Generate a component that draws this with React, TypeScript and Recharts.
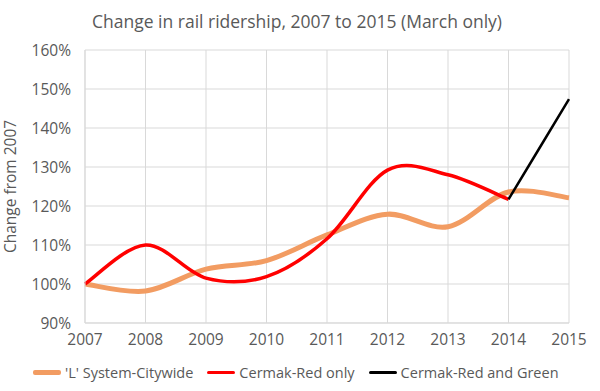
import { CartesianGrid, Line, LineChart, XAxis, YAxis } from 'recharts'

const years = ['2007', '2008', '2009', '2010', '2011', '2012', '2013', '2014', '2015']
const citywide = [100, 98.2, 103.8, 106, 112.6, 117.9, 114.7, 123.6, 122.1]
const cermakRed = [100, 110, 101.5, 101.9, 111.6, 129.2, 128, 121.7, null]
const cermakRedGreen = [null, null, null, null, null, null, null, 121.7, 147.4]
const yTicks = [90, 100, 110, 120, 130, 140, 150, 160]

const series = [
  { key: 'citywide', name: "'L' System-Citywide", color: '#F29C62', width: 5 },
  { key: 'red', name: 'Cermak-Red only', color: '#FF0000', width: 3.5 },
  { key: 'redGreen', name: 'Cermak-Red and Green', color: '#000000', width: 2.5 },
]

const data = years.map((year, i) => ({
  year,
  citywide: citywide[i],
  red: cermakRed[i],
  redGreen: cermakRedGreen[i],
}))

// Excel-style smoothed line (uniform Catmull-Rom as cubic beziers)
const excelSmooth = (context: any) => {
  let pts: [number, number][] = []
  return {
    areaStart() {},
    areaEnd() {},
    lineStart() {
      pts = []
    },
    lineEnd() {
      if (!pts.length) return
      context.moveTo(pts[0][0], pts[0][1])
      for (let i = 0; i < pts.length - 1; i++) {
        const p0 = pts[i - 1] || pts[i]
        const p1 = pts[i]
        const p2 = pts[i + 1]
        const p3 = pts[i + 2] || p2
        context.bezierCurveTo(
          p1[0] + (p2[0] - p0[0]) / 6,
          p1[1] + (p2[1] - p0[1]) / 6,
          p2[0] - (p3[0] - p1[0]) / 6,
          p2[1] - (p3[1] - p1[1]) / 6,
          p2[0],
          p2[1],
        )
      }
    },
    point(x: number, y: number) {
      pts.push([x, y])
    },
  }
}

const font = '"Open Sans", "Noto Sans", sans-serif'
const gray = '#595959'

export default function App() {
  return (
    <div
      style={{
        position: 'absolute',
        left: 0,
        top: 0,
        width: 600,
        height: 391,
        background: '#fff',
        fontFamily: font,
      }}
    >
      <div
        style={{
          position: 'absolute',
          top: 9,
          left: 0,
          width: 594,
          textAlign: 'center',
          fontSize: 17.5,
          color: gray,
        }}
      >
        Change in rail ridership, 2007 to 2015 (March only)
      </div>
      <LineChart
        width={600}
        height={391}
        data={data}
        margin={{ top: 50, right: 31, left: 15, bottom: 38 }}
      >
        <CartesianGrid stroke="#D9D9D9" />
        <XAxis
          dataKey="year"
          height={30}
          tick={{ fill: gray, fontSize: 15.5, fontFamily: font }}
          tickLine={false}
          tickMargin={5}
          axisLine={{ stroke: '#D9D9D9' }}
          interval={0}
        />
        <YAxis
          width={70}
          domain={[90, 160]}
          ticks={yTicks}
          tickFormatter={(v) => `${v}%`}
          tick={{ fill: gray, fontSize: 15.5, fontFamily: font }}
          tickLine={false}
          tickMargin={8}
          axisLine={{ stroke: '#D9D9D9' }}
          label={{
            value: 'Change from 2007',
            angle: -90,
            position: 'insideLeft',
            offset: -5,
            style: { fill: gray, fontSize: 15.5, fontFamily: font, textAnchor: 'middle' },
          }}
        />
        {series.map((s) => (
          <Line
            key={s.key}
            dataKey={s.key}
            name={s.name}
            type={excelSmooth as any}
            stroke={s.color}
            strokeWidth={s.width}
            dot={false}
            activeDot={false}
            isAnimationActive={false}
          />
        ))}
      </LineChart>
      <div
        style={{
          position: 'absolute',
          top: 363,
          left: 33,
          display: 'flex',
          alignItems: 'center',
          fontSize: 14.5,
          color: gray,
          whiteSpace: 'nowrap',
        }}
      >
        {series.map((s) => (
          <div key={s.key} style={{ display: 'flex', alignItems: 'center', marginRight: 14 }}>
            <span
              style={{
                display: 'inline-block',
                width: 28,
                height: s.width,
                background: s.color,
                borderRadius: 2,
                marginRight: 4,
              }}
            />
            {s.name}
          </div>
        ))}
      </div>
    </div>
  )
}
